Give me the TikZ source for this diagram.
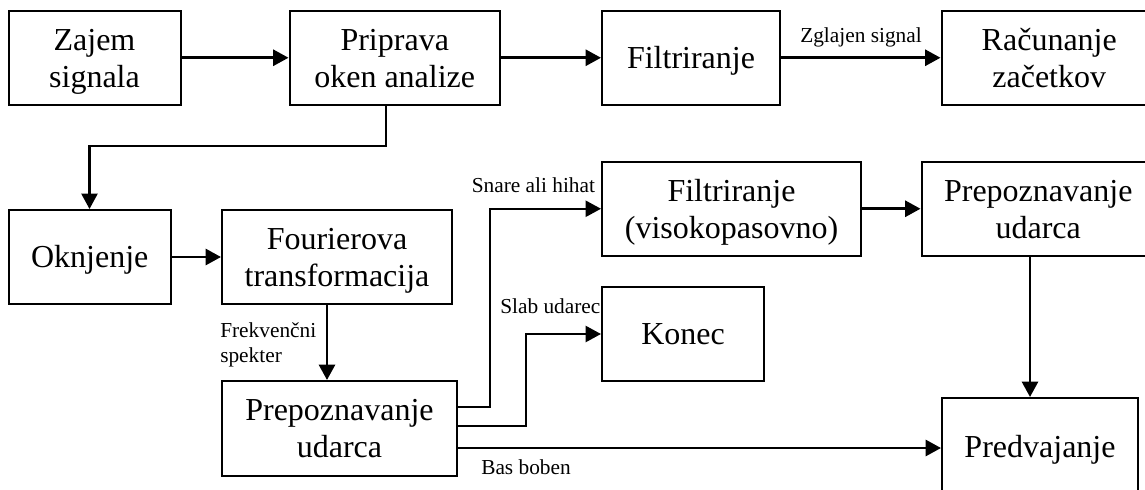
\documentclass[tikz,border=0pt]{standalone}
\usepackage{fontspec}
\setmainfont{Liberation Serif}
\usetikzlibrary{arrows.meta,calc}
\tikzset{
  x=0.75pt,y=-0.75pt,
  boxnode/.style={draw=black,line width=1.5pt,fill=white,inner sep=0pt,align=center,
    font=\fontsize{24pt}{27.75pt}\selectfont},
  flow/.style={draw=black,line width=2pt,-{Triangle[length=11.5pt,width=12pt]}},
  thinflow/.style={flow,line width=1.7pt},
  lbl/.style={inner sep=0pt,align=left,font=\fontsize{16pt}{19.5pt}\selectfont},
}
\newcommand{\bx}[6]{\node[boxnode,minimum width=(#4-#3)*0.75pt,minimum height=(#6-#5)*0.75pt] (#1) at ({(#3+#4)/2},{(#5+#6)/2}) {\vrule height 22pt depth 0pt width 0pt #2\vrule height 0pt depth 5.85pt width 0pt};}
\begin{document}
\begin{tikzpicture}
\useasboundingbox (0,0) rectangle (1145,489);
\clip (0,0) rectangle (1145,489);
\bx{zajem}{Zajem\\signala}{8.5}{180.5}{10.5}{105}
\bx{priprava}{Priprava\\oken analize}{289.5}{500}{10.5}{105}
\bx{filt}{Filtriranje}{602}{780}{10.5}{105}
\bx{racun}{Računanje\\začetkov}{941.5}{1157}{10.5}{105}
\bx{okn}{Oknjenje}{8.5}{171}{210}{304}
\bx{four}{Fourierova\\transformacija}{222}{452}{210}{304}
\bx{filtv}{Filtriranje\\(visokopasovno)}{602}{861}{162}{255.5}
\bx{prepb}{Prepoznavanje\\udarca}{921.5}{1155}{162}{255.5}
\bx{konec}{Konec}{602}{764}{287}{381}
\bx{prepa}{Prepoznavanje\\udarca}{222}{457}{381}{476}
\bx{pred}{Predvajanje}{942}{1138}{398}{496}

\coordinate (pdown) at (386,146);
\coordinate (pleft) at (89.5,146);
\coordinate (fdown) at (327,340);
\coordinate (snare) at (490,407);
\coordinate (slab) at (526,426);
\coordinate (bas) at (700,448);
\coordinate (pbdown) at (1030,330);

\draw[flow] (zajem.east) -- (priprava.west);
\draw[flow] (priprava.east) -- (filt.west);
\draw[flow] (filt.east) -- (racun.west);
\draw[thinflow] (priprava.south -| pdown) -- (pdown) -- (pleft) -- (okn.north -| pleft);
\draw[flow] (okn.east |- four.west) -- (four.west);
\draw[flow] (four.south -| fdown) -- (prepa.north -| fdown);
\draw[thinflow] (prepa.east |- snare) -- (snare) |- (filtv.west);
\draw[thinflow] (prepa.east |- slab) -- (slab) |- (konec.west);
\draw[flow] (prepa.east |- bas) -- (pred.west |- bas);
\draw[flow] (filtv.east) -- (prepb.west);
\draw[flow] (prepb.south -| pbdown) -- (pred.north -| pbdown);

\node[lbl,anchor=base west] (zgl) at (800,42) {Zglajen signal};
\node[lbl,anchor=base west] (sn) at (471.5,192) {Snare ali hihat};
\node[lbl,anchor=base west] (sl) at (500,313) {Slab udarec};
\node[lbl,anchor=base west] (fr) at (220,337) {Frekvenčni};
\node[lbl,anchor=base west] (sp) at (220,362) {spekter};
\node[lbl,anchor=base west] (bb) at (481,474) {Bas boben};
\end{tikzpicture}
\end{document}
